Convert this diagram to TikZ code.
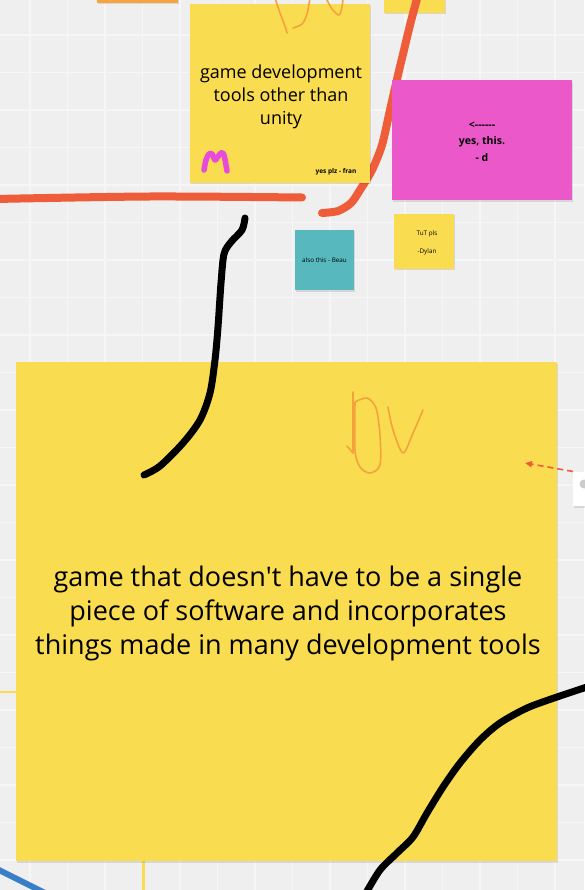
\documentclass[tikz,border=0pt]{standalone}
\usepackage{fontspec}
\setmainfont{Open Sans}
\usetikzlibrary{arrows.meta,shadows}
\definecolor{bg}{HTML}{EFEFEF}
\definecolor{gridc}{HTML}{F6F6F6}
\definecolor{sy}{HTML}{FADC50}
\definecolor{sm}{HTML}{EA58CA}
\definecolor{st}{HTML}{57B8BD}
\definecolor{so}{HTML}{F8A43C}
\definecolor{rl}{HTML}{EE5C3A}
\definecolor{dv}{HTML}{F4A23C}
\definecolor{mm}{HTML}{E84ADC}
\definecolor{bl}{HTML}{3A7FC5}
\tikzset{
  sticky/.style={draw=none, inner sep=0pt, align=center, text=black,
    drop shadow={shadow xshift=1pt, shadow yshift=-1.5pt, fill=black, opacity=0.10}},
  marker/.style={line width=7pt, line cap=round, line join=round},
  pen/.style={draw=dv, line width=1.6pt, line cap=round, line join=round},
}
\begin{document}
\begin{tikzpicture}[x=1pt,y=-1pt]
\useasboundingbox (0,0) rectangle (584,890);
\fill[bg] (0,0) rectangle (584,890);
\foreach \i in {0,...,15} \draw[gridc, line width=1.5pt] ({30+37.5*\i},0) -- ++(0,890);
\foreach \j in {0,...,23} \draw[gridc, line width=1.5pt] (0,{35+37.5*\j}) -- ++(584,0);

% thin connector lines
\draw[sy, line width=2pt] (0,691.5) -- (20,691.5);
\draw[sy, line width=3pt] (143.5,855) -- (143.5,890);
\draw[bl, line width=6pt] (-5,868) -- (45,893);

% top small stickies
\node[sticky, fill=so, minimum width=81pt, minimum height=20pt] (otop) at (137.5,-7) {};
\node[sticky, fill=sy, minimum width=61pt, minimum height=30pt] (ytop) at (414.5,-2) {};

% red lines (behind stickies)
\draw[rl, marker, line width=8pt] plot[smooth] coordinates {(-5,199) (150,196.5) (302,197.5)};
\draw[rl, marker, line width=8pt] plot[smooth] coordinates {(418,-5) (410,25) (404,50) (398,75) (390,110) (382,145) (372,170) (360,190) (351,203) (338,211) (322,213)};

% sticky: game development tools
\node[sticky, fill=sy, minimum width=180pt, minimum height=179pt] (gdt) at (280,93.5) {};
\node[font=\fontsize{18}{23}\selectfont, align=center] (gdtt) at (281,96.5) {game development\\tools other than\\unity};
\node[font=\bfseries\fontsize{6.5}{8}\selectfont] (fran) at (336,171.5) {yes plz - fran};
\draw[mm, line width=5.5pt, line cap=round, line join=round] plot[smooth] coordinates {(204,170) (206,160) (209,154) (212,154) (215,160) (217,158) (221,153) (224,155) (227,171)};
% orange DV at top
\draw[pen] plot[smooth] coordinates {(275,-2) (280,13) (285,26) (287,33)};
\draw[pen] plot[smooth] coordinates {(293,28) (302,24) (307,14) (310,-2)};
\draw[pen] plot[smooth] coordinates {(326,-2) (332,9) (339,15) (342,7) (343,-2)};

% magenta sticky
\node[sticky, fill=sm, minimum width=180pt, minimum height=120pt] (mag) at (482,140.5) {};
\node[font=\bfseries\fontsize{10.5}{16.5}\selectfont, align=center] (magt) at (482,141.5) {<{-}{-}{-}{-}{-}{-}\\yes, this.\\- d};

% teal sticky
\node[sticky, fill=st, minimum width=59pt, minimum height=60pt] (teal) at (324.5,260) {};
\node[font=\fontsize{6.3}{8}\selectfont] (tealt) at (teal.center) {also this - Beau};

% small yellow sticky
\node[sticky, fill=sy, minimum width=60pt, minimum height=55pt] (tut) at (424,241.5) {};
\node[font=\fontsize{6.3}{18}\selectfont, align=center] (tutt) at (427,243) {TuT pls\\-Dylan};

% white card at right
\node[sticky, fill=white, minimum width=30pt, minimum height=34pt, anchor=north west] (card) at (573,472) {};
\fill[black!20] (584,484) circle (4.5pt);

% big sticky
\node[sticky, fill=sy, minimum width=541pt, minimum height=499pt] (big) at (286.5,611.5) {};
\node[font=\fontsize{27}{34}\selectfont, align=center] (bigt) at (288,613) {game that doesn\textquotesingle t have to be a single\\piece of software and incorporates\\things made in many development tools};
% DV on big sticky
\draw[pen] (353,392) -- (353,453);
\draw[pen] (347,446) -- (353,453);
\draw[pen] plot[smooth] coordinates {(355,402) (367,398) (376,408) (380,435) (380,465) (370,473) (360,467) (355,450) (355,402)};
\draw[pen] plot[smooth] coordinates {(388,407) (393,430) (403,453) (413,433) (423,410)};

% dashed arrow
\coordinate (arrS) at (573,471.5);
\coordinate (arrE) at (525,463);
\draw[rl, line width=1.6pt, dash pattern=on 6pt off 4pt, -{Triangle[length=7pt,width=6pt]}] (arrS) -- (arrE);

% black marker curves
\draw[black, marker] plot[smooth] coordinates {(245,218) (242,230) (231,242) (224,254) (221,283) (218,327) (215,360) (210,393) (200,420) (183,443) (160,466) (144,475)};
\draw[black, marker] plot[smooth] coordinates {(590,686) (557,697) (527,708) (500,723) (480,740) (460,763) (443,787) (427,813) (413,837) (397,853) (380,870) (366,893)};
\end{tikzpicture}
\end{document}
